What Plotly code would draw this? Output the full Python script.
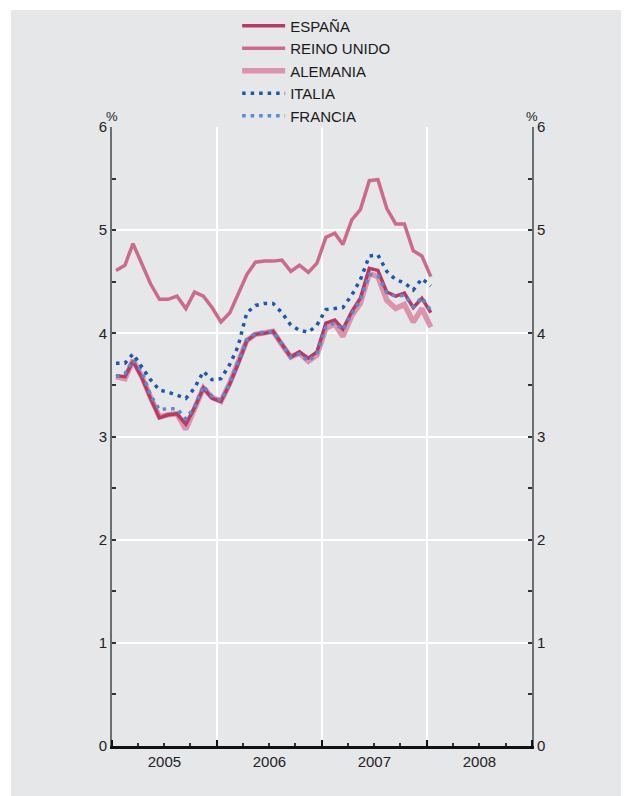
import plotly.graph_objects as go

months = [f"{y}-{m:02d}-15" for y in (2005, 2006, 2007) for m in range(1, 13)] + ["2008-01-15"]

espana = [3.59, 3.58, 3.73, 3.57, 3.37, 3.18, 3.21, 3.22, 3.12, 3.28, 3.47, 3.37,
          3.34, 3.51, 3.70, 3.93, 3.99, 4.00, 4.02, 3.89, 3.77, 3.82, 3.76, 3.82,
          4.10, 4.13, 4.04, 4.21, 4.34, 4.63, 4.61, 4.40, 4.36, 4.39, 4.25, 4.34,
          4.20]
reino_unido = [4.61, 4.66, 4.87, 4.68, 4.48, 4.33, 4.33, 4.36, 4.24, 4.40, 4.36, 4.25,
               4.11, 4.20, 4.37, 4.57, 4.69, 4.70, 4.70, 4.71, 4.60, 4.66, 4.59, 4.68,
               4.93, 4.97, 4.86, 5.10, 5.20, 5.48, 5.49, 5.21, 5.06, 5.06, 4.80, 4.75,
               4.55]
alemania = [3.58, 3.56, 3.74, 3.58, 3.38, 3.19, 3.21, 3.22, 3.07, 3.27, 3.47, 3.38,
            3.34, 3.52, 3.71, 3.93, 3.99, 4.00, 4.02, 3.89, 3.77, 3.81, 3.73, 3.79,
            4.05, 4.09, 3.97, 4.17, 4.29, 4.58, 4.55, 4.32, 4.24, 4.28, 4.11, 4.24,
            4.06]
italia = [3.71, 3.71, 3.80, 3.67, 3.55, 3.45, 3.43, 3.40, 3.37, 3.47, 3.63, 3.55,
          3.56, 3.70, 3.87, 4.20, 4.27, 4.29, 4.29, 4.20, 4.08, 4.03, 4.01, 4.08,
          4.23, 4.24, 4.25, 4.37, 4.52, 4.75, 4.76, 4.60, 4.52, 4.49, 4.42, 4.53,
          4.46]
francia = [3.58, 3.61, 3.74, 3.63, 3.40, 3.26, 3.27, 3.27, 3.17, 3.29, 3.49, 3.39,
           3.35, 3.52, 3.72, 3.94, 4.00, 4.01, 4.02, 3.90, 3.77, 3.80, 3.73, 3.80,
           4.06, 4.10, 4.03, 4.19, 4.32, 4.57, 4.56, 4.39, 4.36, 4.37, 4.26, 4.35,
           4.22]

y_ticks = [0, 1, 2, 3, 4, 5, 6]

BG = "#e6e7e9"
FONT = "Liberation Sans"

fig = go.Figure()
# drawing order (bottom to top); legend order via legendrank
fig.add_trace(go.Scatter(x=months, y=alemania, name="ALEMANIA", mode="lines",
                         line=dict(color="#dc93ac", width=5.5), legendrank=3))
fig.add_trace(go.Scatter(x=months, y=espana, name="ESPAÑA", mode="lines",
                         line=dict(color="#b73a63", width=3.5), legendrank=1))
fig.add_trace(go.Scatter(x=months, y=reino_unido, name="REINO UNIDO", mode="lines",
                         line=dict(color="#cc6a8a", width=3.5), legendrank=2))
fig.add_trace(go.Scatter(x=months, y=francia, name="FRANCIA", mode="lines",
                         line=dict(color="#5a8bcf", width=3.5, dash="3.5px,5px"), legendrank=5))
fig.add_trace(go.Scatter(x=months, y=italia, name="ITALIA", mode="lines",
                         line=dict(color="#2157a8", width=3.5, dash="3.5px,5px"), legendrank=4))
# invisible trace to activate right axis
fig.add_trace(go.Scatter(x=months, y=espana, yaxis="y2", mode="lines",
                         line=dict(width=0), showlegend=False, hoverinfo="skip", opacity=0))

yaxis_common = dict(
    range=[0, 6], tickvals=y_ticks, ticks="inside", ticklen=4, tickwidth=1.5,
    tickcolor="#333333", showline=True, linecolor="#6d6e70", linewidth=2,
    tickfont=dict(family=FONT, size=15, color="#222222"), zeroline=False,
    minor=dict(dtick=0.5, tick0=0, ticks="inside", ticklen=4, tickcolor="#333333", showgrid=False),
    fixedrange=True,
)

fig.update_layout(
    width=621, height=788,
    margin=dict(l=104, r=97, t=119, b=50, autoexpand=False),
    paper_bgcolor="white", plot_bgcolor=BG,
    font=dict(family=FONT, color="#222222"),
    showlegend=True,
    legend=dict(xref="container", yref="container", x=0.369, xanchor="left",
                y=0.998, yanchor="top",
                bgcolor="rgba(0,0,0,0)", font=dict(family=FONT, size=15, color="#1a1a1a"),
                traceorder="normal", itemwidth=43, tracegroupgap=0),
    xaxis=dict(
        type="date", range=["2005-01-01", "2009-01-01"],
        dtick="M12", tick0="2005-01-01", tickformat="%Y", ticklabelmode="period",
        ticks="inside", ticklen=6, tickwidth=1.5, tickcolor="#111111",
        showgrid=True, gridcolor="white", gridwidth=2,
        showline=True, linecolor="#111111", linewidth=2.5,
        tickfont=dict(family=FONT, size=15, color="#222222"),
        minor=dict(dtick="M3", tick0="2005-01-01", ticks="inside", ticklen=3,
                   tickcolor="#333333", showgrid=False),
        zeroline=False, fixedrange=True,
    ),
    yaxis=dict(side="left", showgrid=True, gridcolor="white", gridwidth=2, **yaxis_common),
    yaxis2=dict(side="right", overlaying="y", showgrid=False, **yaxis_common),
    shapes=[dict(type="rect", xref="paper", yref="paper", x0=-0.2405, x1=1.3,
                 y0=-0.2, y1=1.189, fillcolor=BG, line=dict(width=0), layer="below")],
    annotations=[
        dict(text="%", xref="paper", yref="paper", x=0.0, y=1.0, xanchor="center",
             yanchor="bottom", yshift=1, showarrow=False,
             font=dict(family=FONT, size=13, color="#222222")),
        dict(text="%", xref="paper", yref="paper", x=1.0, y=1.0, xanchor="center",
             yanchor="bottom", yshift=1, showarrow=False,
             font=dict(family=FONT, size=13, color="#222222")),
    ],
)

fig.write_html("out.html")
